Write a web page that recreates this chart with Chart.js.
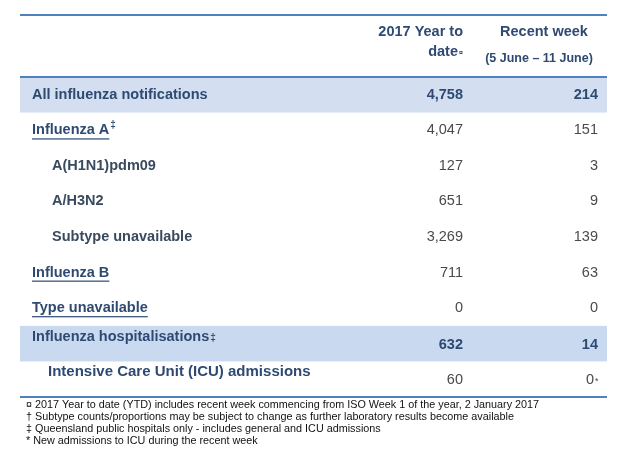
<!DOCTYPE html>
<html>
<head>
<meta charset="utf-8">
<script src="https://cdn.jsdelivr.net/npm/chart.js@4"></script>
<style>
  html, body { margin: 0; padding: 0; background: #fff; }
  #wrap { width: 637px; height: 459px; }
</style>
</head>
<body>
<div id="wrap"><canvas id="c"></canvas></div>
<script>
// table data
var rowLabels = ["All influenza notifications", "Influenza A", "A(H1N1)pdm09", "A/H3N2",
  "Subtype unavailable", "Influenza B", "Type unavailable", "Influenza hospitalisations", "Intensive Care Unit (ICU) admissions"];
var labelMarks = ["", "\u2021", "", "", "", "", "", "\u2021", ""];
var ytdValues = ["4,758", "4,047", "127", "651", "3,269", "711", "0", "632", "60"];
var weekValues = ["214", "151", "3", "9", "139", "63", "0", "14", "0"];
var weekMarks = ["", "", "", "", "", "", "", "", "*"];
var rowKinds = ["total", "link", "sub", "sub", "sub", "link", "link", "total", "sub"];
var headerYtd = ["2017 Year to", "date"];
var headerWeek = ["Recent week", "(5 June \u2013 11 June)"];
var footnotes = [
  "\u00a4 2017 Year to date (YTD) includes recent week commencing from ISO Week 1 of the year, 2 January 2017",
  "\u2020 Subtype counts/proportions may be subject to change as further laboratory results become available",
  "\u2021 Queensland public hospitals only - includes general and ICU admissions",
  "* New admissions to ICU during the recent week"
];

var BLUE = "#4f81bd";
var TITLE = "#2e4a72";
var SHADE = "#d3dff0";
var FONT = "'Liberation Sans', Arial, sans-serif";

var tablePlugin = {
  id: "table",
  afterDraw: function (chart) {
    var ctx = chart.ctx;
    var area = chart.chartArea;
    var y = chart.scales.y;
    var left = area.left, right = area.right;
    var col1 = 463, col2 = 598;
    var band = (y.getPixelForValue(1) - y.getPixelForValue(0));
    ctx.save();

    // row shading
    rowLabels.forEach(function (lab, i) {
      if (rowKinds[i] === "total") {
        ctx.fillStyle = i === 7 ? "#c9daf0" : SHADE;
        ctx.fillRect(left, y.getPixelForValue(i) - band / 2, right - left, band);
      }
    });

    // header
    ctx.fillStyle = TITLE;
    ctx.font = "bold 14.5px " + FONT;
    ctx.textAlign = "right";
    ctx.textBaseline = "middle";
    ctx.fillText(headerYtd[0], col1, 32);
    ctx.fillText(headerYtd[1], col1 - 5, 52);
    ctx.font = "bold 7px " + FONT;
    ctx.fillText("\u00a4", col1, 53);
    ctx.font = "bold 14.5px " + FONT;
    ctx.textAlign = "center";
    ctx.fillText(headerWeek[0], 544, 32);
    ctx.font = "bold 12.5px " + FONT;
    ctx.fillText(headerWeek[1], 539, 59);

    // rows
    rowLabels.forEach(function (lab, i) {
      var cy = y.getPixelForValue(i);
      var kind = rowKinds[i];
      var ly = cy, vy = cy;
      if (i === 7) { ly = cy - 7; vy = cy + 1; }
      if (i === 8) { ly = cy - 7; vy = cy + 1; }
      var lx = kind === "sub" ? 52 : 32;
      if (i === 8) lx = 48;
      ctx.textAlign = "left";
      ctx.font = "bold " + (i === 8 ? 15 : 14.5) + "px " + FONT;
      ctx.fillStyle = kind === "sub" && i !== 8 ? "#3a4a5e" : TITLE;
      ctx.fillText(lab, lx, ly);
      var w = ctx.measureText(lab).width;
      if (kind === "link") {
        ctx.fillRect(lx, ly + 8, w, 1.2);
      }
      if (labelMarks[i]) {
        ctx.font = "bold 10px " + FONT;
        ctx.fillText(labelMarks[i], lx + w + 1, i === 1 ? ly - 5 : ly + 2);
      }
      ctx.textAlign = "right";
      var bold = kind === "total";
      ctx.font = (bold ? "bold " : "") + "14.5px " + FONT;
      ctx.fillStyle = bold ? TITLE : "#4a4a4a";
      ctx.fillText(ytdValues[i], col1, vy);
      var wx = col2 - (weekMarks[i] ? 4 : 0);
      ctx.fillText(weekValues[i], wx, vy);
      if (weekMarks[i]) {
        ctx.font = "9px " + FONT;
        ctx.textAlign = "left";
        ctx.fillText(weekMarks[i], wx + 1, vy + 1);
      }
    });

    // rules
    ctx.fillStyle = BLUE;
    ctx.fillRect(left, 14, right - left, 2);
    ctx.fillRect(left, area.top - 1, right - left, 2);
    ctx.fillRect(left, area.bottom - 1, right - left, 2);

    // footnotes
    ctx.fillStyle = "#111";
    ctx.font = "10.8px " + FONT;
    ctx.textAlign = "left";
    footnotes.forEach(function (t, i) {
      ctx.fillText(t, 26, area.bottom + 8 + i * 12);
    });
    ctx.restore();
  }
};

new Chart(document.getElementById("c"), {
  type: "bar",
  data: { labels: rowLabels, datasets: [{ data: [], backgroundColor: "transparent" }] },
  options: {
    indexAxis: "y",
    responsive: true,
    maintainAspectRatio: false,
    animation: false,
    layout: { padding: { top: 77, bottom: 62, left: 20, right: 30 } },
    plugins: { legend: { display: false }, tooltip: { enabled: false } },
    scales: {
      y: { type: "category", display: false, offset: true },
      x: { display: false, min: 0, max: 1 }
    }
  },
  plugins: [tablePlugin]
});
</script>
</body>
</html>
